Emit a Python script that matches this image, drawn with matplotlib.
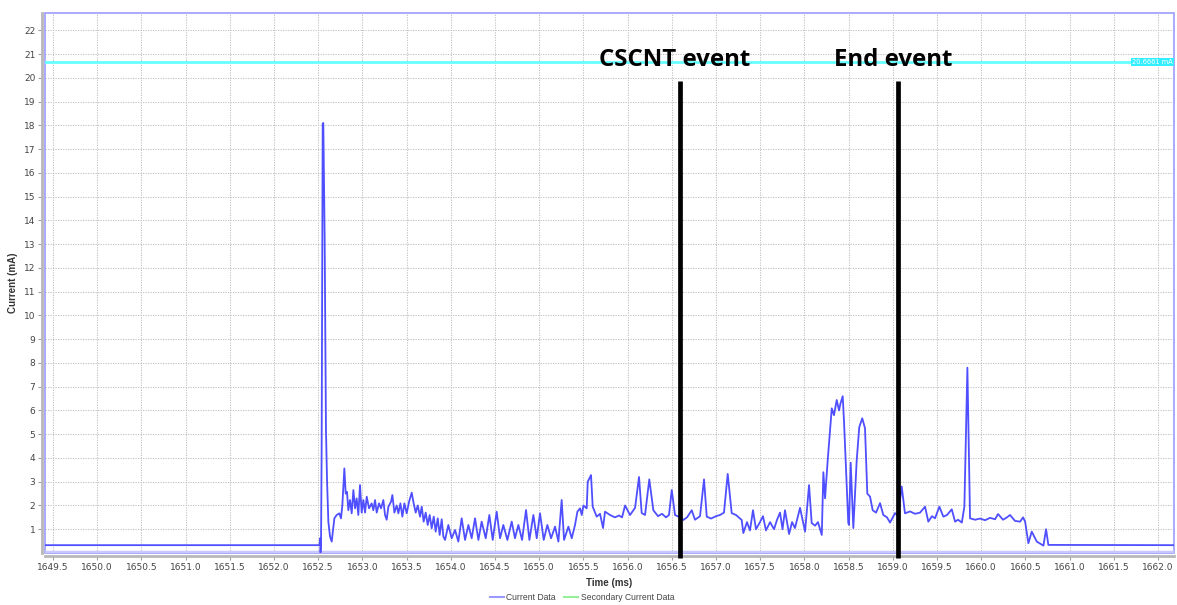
import matplotlib
matplotlib.use("Agg")
import matplotlib.pyplot as plt
from matplotlib.patches import Rectangle
from matplotlib.lines import Line2D

# Current trace: time (ms) and current (mA)
time_ms = [
    1649.41, 1652.500, 1652.515, 1652.522, 1652.526, 1652.532, 1652.539,
    1652.551, 1652.558, 1652.573, 1652.588, 1652.600, 1652.615, 1652.634,
    1652.653, 1652.683, 1652.709, 1652.739, 1652.758, 1652.773, 1652.796,
    1652.811, 1652.826, 1652.841, 1652.860, 1652.879, 1652.898, 1652.917,
    1652.935, 1652.954, 1652.973, 1652.992, 1653.011, 1653.030, 1653.049,
    1653.075, 1653.105, 1653.124, 1653.143, 1653.162, 1653.188, 1653.211,
    1653.237, 1653.256, 1653.275, 1653.294, 1653.324, 1653.339, 1653.362,
    1653.388, 1653.407, 1653.430, 1653.452, 1653.475, 1653.501, 1653.528,
    1653.558, 1653.580, 1653.603, 1653.626, 1653.652, 1653.671, 1653.693,
    1653.716, 1653.739, 1653.761, 1653.784, 1653.807, 1653.829, 1653.852,
    1653.874, 1653.897, 1653.916, 1653.935, 1653.972, 1654.010, 1654.048,
    1654.085, 1654.123, 1654.161, 1654.199, 1654.236, 1654.274, 1654.312,
    1654.349, 1654.395, 1654.436, 1654.474, 1654.519, 1654.557, 1654.594,
    1654.640, 1654.689, 1654.726, 1654.764, 1654.806, 1654.851, 1654.889,
    1654.934, 1654.972, 1655.009, 1655.051, 1655.092, 1655.134, 1655.179,
    1655.217, 1655.254, 1655.281, 1655.330, 1655.368, 1655.405, 1655.432,
    1655.462, 1655.481, 1655.500, 1655.537, 1655.549, 1655.586, 1655.605,
    1655.650, 1655.688, 1655.722, 1655.744, 1655.801, 1655.857, 1655.903,
    1655.937, 1655.971, 1656.027, 1656.084, 1656.129, 1656.159, 1656.197,
    1656.245, 1656.291, 1656.344, 1656.389, 1656.434, 1656.468, 1656.499,
    1656.536, 1656.593, 1656.630, 1656.672, 1656.725, 1656.762, 1656.819,
    1656.864, 1656.895, 1656.943, 1657.000, 1657.045, 1657.090, 1657.132,
    1657.177, 1657.226, 1657.290, 1657.309, 1657.350, 1657.384, 1657.418,
    1657.452, 1657.497, 1657.531, 1657.565, 1657.611, 1657.656, 1657.690,
    1657.724, 1657.752, 1657.780, 1657.826, 1657.860, 1657.893, 1657.950,
    1658.007, 1658.052, 1658.082, 1658.120, 1658.153, 1658.196, 1658.214,
    1658.233, 1658.263, 1658.309, 1658.334, 1658.365, 1658.391, 1658.408,
    1658.433, 1658.448, 1658.478, 1658.496, 1658.504, 1658.523, 1658.553,
    1658.591, 1658.620, 1658.654, 1658.685, 1658.711, 1658.742, 1658.772,
    1658.810, 1658.855, 1658.892, 1658.934, 1658.968, 1659.025, 1659.059,
    1659.100, 1659.137, 1659.194, 1659.251, 1659.308, 1659.364, 1659.401,
    1659.443, 1659.477, 1659.526, 1659.571, 1659.613, 1659.666, 1659.704,
    1659.738, 1659.780, 1659.809, 1659.843, 1659.873, 1659.930, 1659.986,
    1660.043, 1660.099, 1660.156, 1660.190, 1660.246, 1660.291, 1660.325,
    1660.382, 1660.439, 1660.473, 1660.496, 1660.533, 1660.571, 1660.628,
    1660.703, 1660.733, 1660.759, 1662.18,
]
current_ma = [
    0.33, 0.33, 0.33, 0.62, 0.02, 0.30, 4.30,
    18.08, 18.10, 13.30, 5.20, 3.07, 1.32, 0.69,
    0.48, 1.46, 1.60, 1.67, 1.46, 2.00, 3.56,
    2.50, 2.57, 1.80, 2.23, 1.67, 2.65, 1.88,
    2.30, 1.60, 2.86, 1.70, 2.23, 1.70, 2.37,
    1.88, 2.09, 1.80, 2.23, 1.70, 2.09, 1.88,
    2.23, 1.60, 1.40, 1.95, 2.16, 2.44, 1.70,
    2.00, 1.67, 2.09, 1.53, 2.09, 1.67, 2.16,
    2.54, 2.09, 1.70, 2.00, 1.53, 1.95, 1.32,
    1.70, 1.18, 1.60, 1.04, 1.53, 0.90, 1.46,
    0.76, 1.42, 0.69, 0.55, 1.18, 0.62, 0.97,
    0.48, 1.46, 0.55, 1.18, 0.62, 1.46, 0.55,
    1.32, 0.62, 1.60, 0.55, 1.74, 0.62, 1.18,
    0.55, 1.32, 0.62, 1.18, 0.55, 1.81, 0.55,
    1.60, 0.62, 1.67, 0.55, 1.18, 0.62, 1.11,
    0.48, 2.23, 0.55, 1.11, 0.62, 1.18, 1.74,
    1.88, 1.60, 2.00, 1.88, 3.00, 3.28, 1.95,
    1.53, 1.65, 1.05, 1.74, 1.60, 1.50, 1.58,
    1.50, 2.00, 1.60, 1.90, 3.20, 1.68, 1.60,
    3.10, 1.80, 1.55, 1.65, 1.50, 1.60, 2.65,
    1.60, 1.50, 1.39, 1.50, 1.80, 1.40, 1.55,
    3.10, 1.53, 1.45, 1.55, 1.60, 1.70, 3.33,
    1.68, 1.60, 1.39, 0.84, 1.30, 0.95, 1.80,
    1.00, 1.30, 1.55, 0.95, 1.30, 1.00, 1.40,
    1.70, 1.00, 1.80, 0.80, 1.30, 1.05, 1.90,
    0.90, 2.86, 1.26, 1.15, 1.30, 0.76, 3.40,
    2.30, 3.90, 6.09, 5.80, 6.44, 6.00, 6.30,
    6.60, 5.50, 2.90, 1.26, 1.18, 3.80, 1.05,
    3.90, 5.30, 5.67, 5.25, 2.50, 2.37, 1.80,
    1.70, 2.10, 1.60, 1.50, 1.28, 1.68, 1.55,
    2.80, 1.67, 1.75, 1.65, 1.70, 1.95, 1.32,
    1.55, 1.46, 1.95, 1.53, 1.60, 1.84, 1.32,
    1.40, 1.28, 1.95, 7.80, 1.46, 1.40, 1.45,
    1.38, 1.48, 1.42, 1.64, 1.40, 1.50, 1.60,
    1.35, 1.32, 1.50, 1.32, 0.41, 0.90, 0.48,
    0.31, 1.00, 0.34, 0.33,
]

# Threshold marker and event markers
threshold_ma = 20.6661
event_names = ["CSCNT event", "End event"]
event_times = [1656.593, 1659.059]
event_label_times = [1656.536, 1659.002]

x_ticks = [1649.5 + 0.5 * i for i in range(26)]
y_ticks = list(range(1, 23))

W, H = 1177, 605
fig = plt.figure(figsize=(W / 100, H / 100), dpi=100)
ax = fig.add_axes([45 / W, 1 - 553 / H, (1174 - 45) / W, (553 - 13) / H])

ax.set_xlim(1649.41, 1662.18)
ax.set_ylim(0, 22.73)

ax.set_xticks(x_ticks)
ax.set_xticklabels([f"{v:.1f}" for v in x_ticks])
ax.set_yticks(y_ticks)
ax.tick_params(axis="both", which="major", length=3, width=0.8, color="#a0a0a0",
               labelsize=6.5, labelcolor="#444444", pad=2)
for lab in ax.get_xticklabels() + ax.get_yticklabels():
    lab.set_fontfamily("Liberation Sans")

ax.grid(True, color="#c4c4c4", linestyle=(0, (1.2, 1.2)), linewidth=0.75)
ax.set_axisbelow(True)

for side in ("top", "right"):
    ax.spines[side].set_visible(False)
for side in ("left", "bottom"):
    ax.spines[side].set_color("#b8b8b8")
    ax.spines[side].set_linewidth(2)
    ax.spines[side].set_position(("outward", 2))

# Plot border
ax.add_patch(Rectangle((0, 0), 1, 1, transform=ax.transAxes, fill=False,
                       edgecolor="#9c9cff", linewidth=1.2, clip_on=False, zorder=1))
ax.axhline(0.06, color="#c8c8ff", linewidth=2.5, zorder=1)

# Threshold line with value tag
ax.axhline(threshold_ma, color="#66ffff", linewidth=2, zorder=2)
ax.text(0.999, threshold_ma, f"{threshold_ma:.4f} mA", transform=ax.get_yaxis_transform(),
        ha="right", va="center", fontsize=4.8, color="white", family="DejaVu Sans",
        bbox=dict(boxstyle="square,pad=0.15", facecolor="#33eeff", edgecolor="none"),
        zorder=5)

# Current trace
ax.plot(time_ms, current_ma, color="#4f4fff", linewidth=1.3, zorder=3)

# Event markers
for name, t, tl in zip(event_names, event_times, event_label_times):
    ax.vlines(t, -0.2, 19.87, color="black", linewidth=3.4, zorder=4, clip_on=False)
    ax.text(tl, 20.5, name, ha="center", va="baseline", fontsize=17.3,
            fontweight="bold", family="Open Sans", color="black", zorder=6)

ax.set_xlabel("Time (ms)", fontsize=7, fontweight="bold", color="#333333",
              family="Liberation Sans")
ax.xaxis.set_label_coords(0.5, -0.046)
ax.set_ylabel("Current (mA)", fontsize=7, fontweight="bold", color="#333333",
              family="Liberation Sans")
ax.yaxis.set_label_coords(-0.024, 0.5)

handles = [Line2D([], [], color="#9999ff", linewidth=1.5),
           Line2D([], [], color="#99ee99", linewidth=1.5)]
fig.legend(handles, ["Current Data", "Secondary Current Data"], loc="center",
           bbox_to_anchor=(582 / W, 1 - 598 / H), ncol=2, frameon=False,
           prop={"family": "Liberation Sans", "size": 6.2}, handlelength=1.6,
           handletextpad=0.3, columnspacing=1.0, labelcolor="#444444")

fig.savefig("out.png", dpi=100, facecolor="white")
